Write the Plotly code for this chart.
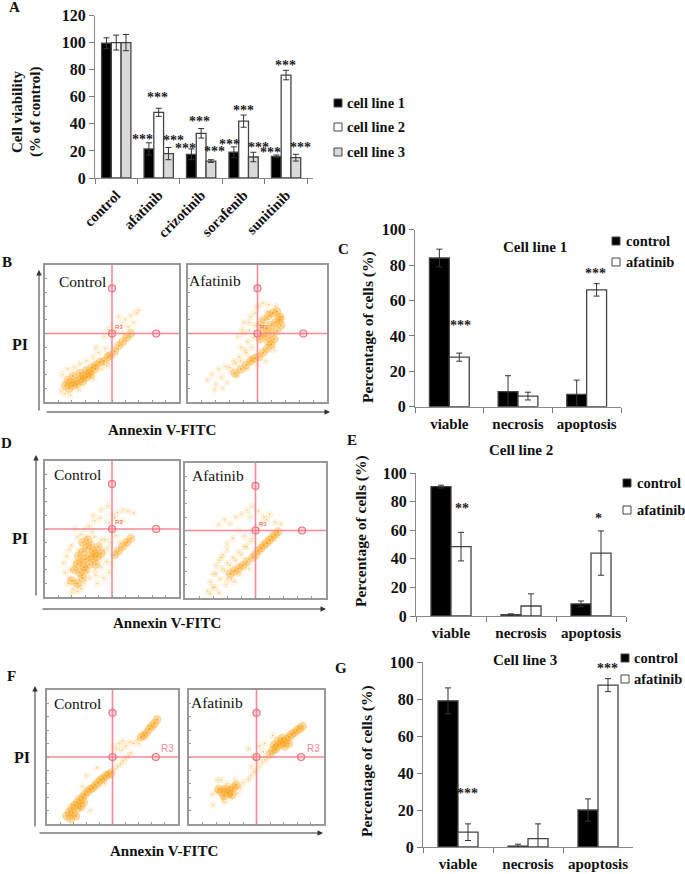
import plotly.graph_objects as go

W, H = 685, 874
FONT = "Liberation Serif"

# ---------- Panel A ----------
drugs = ["control", "afatinib", "crizotinib", "sorafenib", "sunitinib"]
line1_vals = [99.5, 21.5, 17.5, 19, 16]
line1_errs = [4, 4.5, 4, 4, 1]
line2_vals = [100, 48.5, 33, 42, 76]
line2_errs = [5.5, 3, 3.5, 4.5, 3.5]
line3_vals = [100, 18, 12.5, 15.5, 15]
line3_errs = [6, 4.5, 1, 3.5, 2.5]
stars_a_x = [0.62, 0.97, 1.34, 1.63, 1.95, 2.32, 2.67, 2.99, 3.35, 3.63, 3.98, 4.34]
stars_a_y = [31, 62, 30, 24, 44, 22, 27, 52, 25, 21, 85, 25]

# ---------- Panels C, E, G ----------
fates = ["viable", "necrosis", "apoptosis"]
c_ctrl = [84, 8.5, 7]
c_ctrl_err = [5, 9, 8]
c_afat = [28, 6, 66]
c_afat_err = [2.3, 2.2, 3.5]
e_ctrl = [90.5, 1, 8.5]
e_ctrl_err = [1, 0.5, 2]
e_afat = [48.5, 7, 44]
e_afat_err = [10, 8.5, 15.5]
g_ctrl = [79, 0.5, 20]
g_ctrl_err = [7, 1, 6]
g_afat = [8, 4.5, 87.5]
g_afat_err = [4.5, 8, 3.5]

# ---------- Flow cytometry clouds (percent of panel) ----------
b_ctrl_dense_x = [15,17,19,21,23,18,21,24,27,26,29,31,33,35,37,28,31,34,38,41,44,47,49,52,55,58,61,64]
b_ctrl_dense_y = [12,16,14,19,15,10,12,13,17,21,19,23,21,25,24,15,18,20,27,29,30,33,34,37,41,44,47,50]
b_ctrl_haze_x = [13,17,22,26,31,36,40,45,12,15,19,25,42,46,48,36,38,53,57,60,64,68,70,62,55,50,47,44,58,66]
b_ctrl_haze_y = [20,24,25,28,30,33,36,39,8,6,5,9,24,26,28,17,40,52,56,60,63,65,67,55,62,56,53,48,50,58]
b_afat_dense_x = [52,55,58,61,64,66,54,57,60,63,66,52,56,60,64,67,58,62,60,57,54,51,48,45,42,38,34]
b_afat_dense_y = [56,60,63,65,66,62,50,53,56,58,60,46,48,50,52,56,44,46,42,39,36,33,32,30,27,24,21]
b_afat_haze_x = [14,17,20,24,28,31,35,19,25,30,38,42,46,40,44,48,36,40,45,48,47,50,43,38,34,42,50,56,62,45,22,27,33,37,41,46,50,54,58,63,68,52,57,44,39]
b_afat_haze_y = [16,20,13,18,14,22,19,9,10,25,30,36,40,50,52,56,48,58,62,65,47,70,44,40,28,24,28,30,38,32,24,26,30,33,38,30,70,72,71,70,62,60,66,58,53]
d_ctrl_dense_x = [25,28,31,34,37,27,30,33,36,39,24,28,32,36,40,29,33,38,42,52,55,58,61,64,22,26,30,20,24,28]
d_ctrl_dense_y = [30,33,36,38,32,26,28,30,34,30,24,40,42,28,37,22,24,24,32,31,34,37,40,43,20,18,20,12,10,14]
d_ctrl_haze_x = [14,16,18,20,15,18,21,25,29,33,38,42,46,50,47,42,37,44,48,24,27,22,33,37,41,50,54,58,62,66,20,24,28,30,35,39,44,49,53,60,17,22,27,32,37,19,25,31,41,45,56,48,52,58,36,42,47]
d_ctrl_haze_y = [25,30,35,38,18,14,6,8,10,14,16,22,26,24,36,42,44,14,18,44,46,50,52,56,58,60,62,64,63,62,3,4,16,50,48,10,34,40,45,40,10,26,6,18,20,20,34,44,28,42,40,55,58,56,60,64,67]
d_afat_dense_x = [48,50,52,54,56,58,60,62,64,66,44,41,38,35,32]
d_afat_dense_y = [30,32,35,37,39,41,43,45,47,49,27,24,22,20,18]
d_afat_haze_x = [16,18,20,22,24,27,30,18,21,25,29,33,37,41,45,22,26,30,34,38,42,46,30,34,38,42,24,28,32,36,40,44,48,52,56,60,64,68,46,50,54,58,20,24,28,32,36,40,44,48,26,30,35,39]
d_afat_haze_y = [5,12,18,24,28,32,36,3,8,14,10,14,18,24,22,18,22,26,30,34,38,42,40,44,50,46,54,58,55,60,62,65,68,64,60,62,56,55,60,52,55,58,8,4,20,24,28,32,38,44,30,14,12,18]
f_ctrl_dense_x = [15,17,19,21,23,25,27,29,31,33,35,37,39,41,43,45,47,49,20,24,28,18,22,26,72,74,76,78,80,82,84]
f_ctrl_dense_y = [6,9,12,14,16,18,20,22,24,26,27,29,31,33,34,36,37,38,8,12,16,4,6,13,65,66,68,71,73,75,78]
f_ctrl_haze_x = [52,54,56,58,60,62,64,50,53,55,58,60,63,66,69,70,57,52,30,38,33,44,27]
f_ctrl_haze_y = [41,43,45,47,49,51,53,58,56,60,62,58,61,60,63,60,55,50,36,42,10,30,28]
f_afat_dense_x = [60,62,64,66,68,70,72,74,76,78,80,82,84,63,66,69,71,74,24,27,30,33,26,29,32,22,35]
f_afat_dense_y = [52,55,56,58,60,61,63,65,67,68,70,71,73,59,62,64,58,60,24,26,25,27,21,23,22,26,29]
f_afat_haze_x = [20,22,24,26,28,30,32,34,36,38,40,25,28,31,34,24,27,21,17,18,26,30,44,46,48,50,52,54,56,58,44,48,52,56,46,62,55]
f_afat_haze_y = [24,26,22,27,25,21,25,28,23,27,31,18,30,20,33,33,16,33,22,14,20,28,33,36,39,40,43,46,48,49,56,50,58,60,43,66,54]
gate_x = [50, 50, 83]
gate_y = [50, 83, 50]

fig = go.Figure()
layout = {}
annots = []
shapes = []


def xf(px):
    return px / W


def yf(py):
    return 1 - py / H


def text(s, px, py, size=15, bold=True, angle=0, color="#111", xanchor="center"):
    annots.append(dict(text=f"<b>{s}</b>" if bold else s, x=xf(px), y=yf(py), xref="paper", yref="paper",
                       showarrow=False, textangle=angle, xanchor=xanchor, yanchor="middle",
                       font=dict(family=FONT, size=size, color=color)))


def arrow(x0, y0, x1, y1):
    annots.append(dict(x=xf(x1), y=yf(y1), xref="paper", yref="paper", ax=x0 - x1, ay=y0 - y1,
                       axref="pixel", ayref="pixel", text="", showarrow=True, arrowhead=2,
                       arrowsize=1.1, arrowwidth=1, arrowcolor="#333"))


def key(name, color, kx, ky, tx, size=14.5):
    shapes.append(dict(type="rect", xref="paper", yref="paper", x0=xf(kx), x1=xf(kx + 8), y0=yf(ky + 4), y1=yf(ky - 4),
                       fillcolor=color, line=dict(color="#444", width=1)))
    text(name, tx, ky, size=size, xanchor="left")


def bar_axes(n, box, rng, dtick, tickangle=0, lab_size=15, standoff=3):
    l, r, t, b = box
    layout[f"xaxis{n}"] = dict(domain=[xf(l), xf(r)], anchor=f"y{n}", type="category", tickson="boundaries",
                               ticks="outside", ticklen=5, tickcolor="#777", linecolor="#888", linewidth=1.2,
                               showgrid=False, tickangle=tickangle, ticklabelstandoff=standoff, automargin=False,
                               tickfont=dict(family=FONT, size=lab_size, color="#111", weight="bold"))
    layout[f"yaxis{n}"] = dict(domain=[yf(b), yf(t)], anchor=f"x{n}", range=rng, dtick=dtick,
                               ticks="outside", ticklen=5, tickcolor="#777", linecolor="#888", linewidth=1.2,
                               showgrid=False, zeroline=False, automargin=False,
                               tickfont=dict(family=FONT, size=16, color="#111", weight="bold"))


def bars(n, cats, series, width):
    k = len(series)
    for i, (name, vals, errs, color) in enumerate(series):
        fig.add_trace(go.Bar(x=cats, y=vals, name=name, xaxis=f"x{n}", yaxis=f"y{n}",
                             width=width, offset=-k * width / 2 + i * width, showlegend=False,
                             marker=dict(color=color, line=dict(color="#444", width=1.3)),
                             error_y=dict(type="data", array=errs, color="#333", thickness=1, width=3)))


def stars(n, xs, ys, s="***", size=14, color="#222"):
    for x, y in zip(xs, ys):
        annots.append(dict(text=f"<b>{s}</b>", x=x, y=y, xref=f"x{n}", yref=f"y{n}", showarrow=False,
                           yshift=-3, font=dict(family=FONT, size=size, color=color)))


def flow(n, box, dense, haze, lab, lab_xy, r3=None, r3_color="#E8535F"):
    l, r, t, b = box
    common = dict(range=[0, 100], showgrid=False, zeroline=False, showticklabels=False, mirror=True, automargin=False,
                  linecolor="#999999", linewidth=1.6, ticks="inside", ticklen=2, dtick=10, tickcolor="#999")
    layout[f"xaxis{n}"] = dict(domain=[xf(l), xf(r)], anchor=f"y{n}", **common)
    layout[f"yaxis{n}"] = dict(domain=[yf(b), yf(t)], anchor=f"x{n}", **common)
    kw = dict(xaxis=f"x{n}", yaxis=f"y{n}", showlegend=False, mode="markers")
    fig.add_trace(go.Scatter(x=haze[0], y=haze[1], marker=dict(size=7, color="#FCC25C", opacity=0.18, line_width=0), **kw))
    fig.add_trace(go.Scatter(x=dense[0], y=dense[1], marker=dict(size=9, color="#FAA51E", opacity=0.42, line_width=0), **kw))
    fig.add_trace(go.Scatter(x=dense[0], y=dense[1], marker=dict(size=2, color="#F59E0B", opacity=0.8, line_width=0), **kw))
    fig.add_trace(go.Scatter(x=haze[0], y=haze[1], marker=dict(size=1.5, color="#F7A92C", opacity=0.7, line_width=0), **kw))
    fig.add_trace(go.Scatter(x=[50, 50], y=[0, 100], xaxis=f"x{n}", yaxis=f"y{n}", mode="lines", showlegend=False,
                             line=dict(color="#F58A97", width=1.6)))
    fig.add_trace(go.Scatter(x=[0, 100], y=[50, 50], xaxis=f"x{n}", yaxis=f"y{n}", mode="lines", showlegend=False,
                             line=dict(color="#F58A97", width=1.6)))
    fig.add_trace(go.Scatter(x=gate_x, y=gate_y, marker=dict(size=7, color="rgba(245,120,135,0.25)",
                                                             line=dict(color="#F0707F", width=1.2)), **kw))
    text(lab, lab_xy[0], lab_xy[1], size=15.5, bold=False)
    if r3:
        annots.append(dict(text="R3", x=r3[0], y=r3[1], xref=f"x{n}", yref=f"y{n}", showarrow=False,
                           font=dict(family="Liberation Sans", size=r3[2], color=r3_color)))


# Panel A
bar_axes(1, (95, 313, 15.5, 178), [0, 120], 20, tickangle=-45, lab_size=14.5, standoff=2)
bars(1, drugs, [("cell line 1", line1_vals, line1_errs, "#000000"),
                ("cell line 2", line2_vals, line2_errs, "#FFFFFF"),
                ("cell line 3", line3_vals, line3_errs, "#D9D9D9")], 0.23)
stars(1, stars_a_x, stars_a_y)
key("cell line 1", "#000000", 334, 103, 345)
key("cell line 2", "#FFFFFF", 334, 127, 345)
key("cell line 3", "#D9D9D9", 334, 152, 345)

# Panels C, E, G
bar_axes(2, (415, 621, 229.7, 406.7), [0, 100], 20)
bars(2, fates, [("control", c_ctrl, c_ctrl_err, "#000000"),
                ("afatinib", c_afat, c_afat_err, "#FFFFFF")], 0.29)
stars(2, [0.165, 2.13], [47.5, 77])
key("control", "#000000", 612, 241, 624)
key("afatinib", "#FFFFFF", 612, 262, 624)

bar_axes(3, (416, 626, 473, 616), [0, 100], 20)
bars(3, fates, [("control", e_ctrl, e_ctrl_err, "#000000"),
                ("afatinib", e_afat, e_afat_err, "#FFFFFF")], 0.286)
stars(3, [0.15], [77.6], s="**")
stars(3, [2.11], [70.6], s="*")
key("control", "#000000", 623, 483, 635)
key("afatinib", "#FFFFFF", 623, 510, 635)

bar_axes(4, (423, 633, 662, 847), [0, 100], 20)
bars(4, fates, [("control", g_ctrl, g_ctrl_err, "#000000"),
                ("afatinib", g_afat, g_afat_err, "#FFFFFF")], 0.286)
stars(4, [0.14, 2.14], [30.4, 98])
key("control", "#000000", 621, 658, 632)
key("afatinib", "#FFFFFF", 621, 679, 632)

# Flow panels
flow(5, (45, 179, 265, 402), (b_ctrl_dense_x, b_ctrl_dense_y), (b_ctrl_haze_x, b_ctrl_haze_y), "Control", (82, 282), (55, 55, 6))
flow(6, (188, 327, 265, 402), (b_afat_dense_x, b_afat_dense_y), (b_afat_haze_x, b_afat_haze_y), "Afatinib", (215, 280), (55, 55, 6))
flow(7, (45, 179, 461, 597), (d_ctrl_dense_x, d_ctrl_dense_y), (d_ctrl_haze_x, d_ctrl_haze_y), "Control", (77, 474), (55, 55, 6))
flow(8, (185, 326, 463, 598), (d_afat_dense_x, d_afat_dense_y), (d_afat_haze_x, d_afat_haze_y), "Afatinib", (218, 475), (55, 55, 6))
flow(9, (47, 178, 690, 824), (f_ctrl_dense_x, f_ctrl_dense_y), (f_ctrl_haze_x, f_ctrl_haze_y), "Control", (77, 703), (92, 56, 10), "#F58A97")
flow(10, (189, 324, 690, 824), (f_afat_dense_x, f_afat_dense_y), (f_afat_haze_x, f_afat_haze_y), "Afatinib", (217, 702), (92, 56, 10), "#F58A97")

# Arrows
arrow(39, 412, 39, 270); arrow(45, 412, 330, 412)
arrow(36, 597, 36, 455); arrow(41, 609, 326, 609)
arrow(35, 828, 35, 686); arrow(38, 833, 323, 833)

# Text
text("A", 14, 7, 15); text("B", 7, 262, 15); text("C", 343, 249, 15); text("D", 6, 443, 15)
text("E", 352, 440, 15); text("F", 11, 676, 15); text("G", 341, 668, 15)
text("PI", 20, 344, 16); text("PI", 20, 538, 16); text("PI", 22, 757, 16)
text("Annexin V-FITC", 162, 430, 15); text("Annexin V-FITC", 167, 623, 15); text("Annexin V-FITC", 164, 851, 15)
text("Cell line 1", 535, 247, 15); text("Cell line 2", 521, 450, 15); text("Cell line 3", 525, 660, 15)
text("Cell viability", 17, 112, 15, angle=-90); text("(% of control)", 35, 112, 15, angle=-90)
text("Percentage of cells (%)", 368, 327, 15.5, angle=-90)
text("Percentage of cells (%)", 361, 531, 15.5, angle=-90)
text("Percentage of cells (%)", 367, 761, 15.5, angle=-90)

fig.update_layout(width=W, height=H, margin=dict(l=0, r=0, t=0, b=0), paper_bgcolor="white",
                  plot_bgcolor="rgba(0,0,0,0)", annotations=annots, shapes=shapes, showlegend=False,
                  barmode="overlay", **layout)
fig.write_html("out.html", post_script="document.body.style.margin='0';", config={"displayModeBar": False})
